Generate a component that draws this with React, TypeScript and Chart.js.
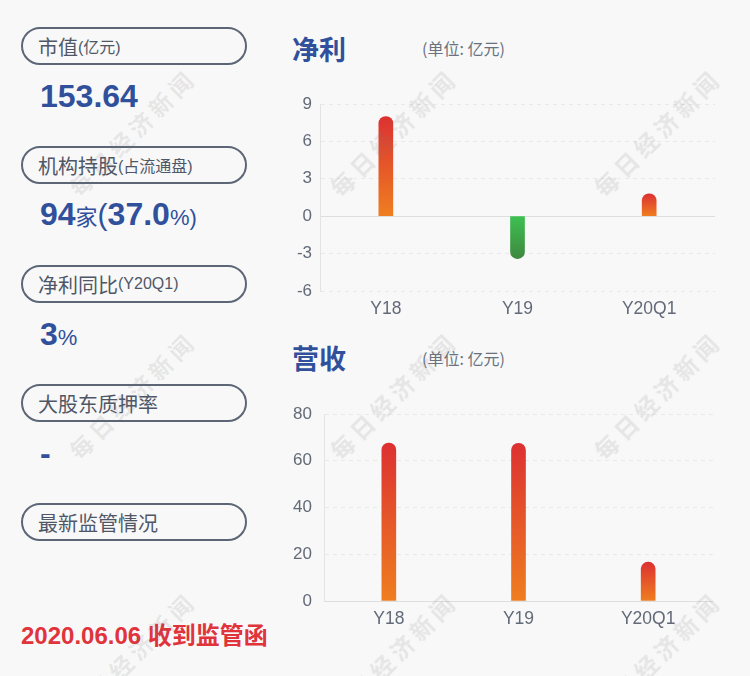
import React, { useEffect, useRef } from "react";
import { Chart, registerables } from "chart.js";

Chart.register(...registerables);

// ---------- data ----------
const categories = ["Y18", "Y19", "Y20Q1"];
const netProfit = [8.0, -3.4, 1.8];
const revenue = [67.6, 67.5, 16.6];
const profitAxis = { min: -6, max: 9, step: 3 };
const revenueAxis = { min: 0, max: 80, step: 20 };

const infoLabels = [
  { main: "市值", sub: "(亿元)" },
  { main: "机构持股", sub: "(占流通盘)" },
  { main: "净利同比", sub: "(Y20Q1)" },
  { main: "大股东质押率", sub: "" },
  { main: "最新监管情况", sub: "" },
];
const marketCap = "153.64";
const instCount = "94";
const instPct = "37.0";
const profitYoY = "3";
const pledgeRate = "-";
const footerText = "2020.06.06 收到监管函";
const unitText = "(单位: 亿元)";
const watermark = "每日经济新闻";

// ---------- styles ----------
const BG = "#f8f8f8";
const BLUE = "#30509c";
const LABEL = "#4f5767";
const BORDER = "#5c6677";
const TICK = "#626a78";
const GRID = "#e9e9e9";
const ZERO = "#dedede";
const FONT = "'Liberation Sans', 'Noto Sans CJK SC', sans-serif";
const CJK = "'Noto Sans CJK SC', sans-serif";

function barColor(ctx: any) {
  const chart = ctx.chart;
  const y = chart.scales && chart.scales.y;
  const v = ctx.raw;
  if (!y || typeof v !== "number") return "#e04a2c";
  const y0 = y.getPixelForValue(0);
  const y1 = y.getPixelForValue(v);
  if (!isFinite(y0) || !isFinite(y1) || y0 === y1) return v >= 0 ? "#e04a2c" : "#3cab4a";
  const g = chart.ctx.createLinearGradient(0, y1, 0, y0);
  if (v >= 0) {
    g.addColorStop(0, "#dc3131");
    g.addColorStop(1, "#ef7e20");
  } else {
    g.addColorStop(0, "#3f8840");
    g.addColorStop(1, "#3dc050");
  }
  return g;
}

function makeConfig(values: number[], axis: { min: number; max: number; step: number }, yWidth: number, padRight: number): any {
  return {
    type: "bar",
    data: {
      labels: categories,
      datasets: [
        {
          data: values,
          backgroundColor: barColor,
          barThickness: 14,
          borderRadius: 7,
          borderSkipped: "start",
        },
      ],
    },
    options: {
      responsive: false,
      animation: false,
      devicePixelRatio: 1,
      layout: { padding: { top: 24, right: padRight, bottom: 4, left: 0 } },
      plugins: { legend: { display: false }, tooltip: { enabled: false } },
      scales: {
        x: {
          grid: { display: false, drawTicks: false },
          border: { display: false },
          ticks: { color: TICK, font: { family: FONT, size: 17.5 }, padding: 8 },
          afterFit: (s: any) => { s.height = 30; },
        },
        y: {
          min: axis.min,
          max: axis.max,
          ticks: {
            stepSize: axis.step,
            color: TICK,
            font: { family: FONT, size: 17 },
            padding: yWidth - 32,
          },
          grid: {
            drawTicks: false,
            color: (c: any) => (c.tick && c.tick.value === 0 ? ZERO : GRID),
            lineWidth: 1,
          },
          border: {
            display: true,
            color: "#e3e3e3",
            dash: (c: any) => (c.tick && c.tick.value === 0 ? [] : [4, 4]),
          },
          afterFit: (s: any) => { s.width = yWidth; },
        },
      },
    },
  };
}

function BarChart({ values, axis, left, top, yWidth, padRight }: any) {
  const ref = useRef<HTMLCanvasElement | null>(null);
  useEffect(() => {
    if (!ref.current) return;
    const chart = new Chart(ref.current, makeConfig(values, axis, yWidth, padRight));
    return () => chart.destroy();
  }, []);
  return (
    <canvas
      ref={ref}
      width={450}
      height={245}
      style={{ position: "absolute", left, top, width: 450, height: 245 }}
    />
  );
}

function InfoBox({ top, main, sub }: { top: number; main: string; sub: string }) {
  return (
    <div
      style={{
        position: "absolute",
        left: 21,
        top,
        width: 226,
        height: 38,
        boxSizing: "border-box",
        border: `2px solid ${BORDER}`,
        borderRadius: 19,
        display: "flex",
        alignItems: "center",
        paddingLeft: 15,
        color: LABEL,
        fontFamily: FONT,
        fontSize: 20,
        whiteSpace: "nowrap",
      }}
    >
      <span>{main}</span>
      {sub ? <span style={{ fontSize: 16 }}>{sub}</span> : null}
    </div>
  );
}

const valueStyle: React.CSSProperties = {
  position: "absolute",
  left: 40,
  color: BLUE,
  fontFamily: FONT,
  fontSize: 32,
  lineHeight: "32px",
  fontWeight: 700,
  whiteSpace: "nowrap",
};
const small: React.CSSProperties = { fontSize: 22, fontWeight: 400 };

export default function App() {
  const boxTops = [27, 146, 265, 384, 503];
  const wmX = [132, 393, 657];
  const wmY = [132, 395, 655];
  return (
    <div
      style={{
        position: "fixed",
        left: 0,
        top: 0,
        width: 750,
        height: 676,
        background: BG,
        overflow: "hidden",
      }}
    >
      {infoLabels.map((l, i) => (
        <InfoBox key={i} top={boxTops[i]} main={l.main} sub={l.sub} />
      ))}
      <div style={{ ...valueStyle, top: 80 }}>{marketCap}</div>
      <div style={{ ...valueStyle, top: 198 }}>
        {instCount}
        <span style={small}>家</span>
        <span style={{ fontWeight: 400, fontSize: 30 }}>(</span>
        {instPct}
        <span style={small}>%)</span>
      </div>
      <div style={{ ...valueStyle, top: 318 }}>
        {profitYoY}
        <span style={small}>%</span>
      </div>
      <div style={{ ...valueStyle, top: 437 }}>{pledgeRate}</div>
      <div
        style={{
          position: "absolute",
          left: 21,
          top: 624,
          color: "#e0333b",
          fontFamily: FONT,
          fontSize: 24,
          lineHeight: "24px",
          fontWeight: 700,
          whiteSpace: "nowrap",
        }}
      >
        {footerText}
      </div>

      {/* chart titles */}
      <div style={{ position: "absolute", left: 292, top: 35, fontFamily: CJK, fontSize: 27, lineHeight: "27px", fontWeight: 700, color: BLUE }}>净利</div>
      <div style={{ position: "absolute", left: 422, top: 40, fontFamily: CJK, fontSize: 16, lineHeight: "16px", color: "#6a7280", whiteSpace: "nowrap" }}>{unitText}</div>
      <div style={{ position: "absolute", left: 292, top: 344, fontFamily: CJK, fontSize: 27, lineHeight: "27px", fontWeight: 700, color: BLUE }}>营收</div>
      <div style={{ position: "absolute", left: 422, top: 350, fontFamily: CJK, fontSize: 16, lineHeight: "16px", color: "#6a7280", whiteSpace: "nowrap" }}>{unitText}</div>

      <BarChart values={netProfit} axis={profitAxis} left={280} top={80} yWidth={40} padRight={15} />
      <BarChart values={revenue} axis={revenueAxis} left={280} top={390} yWidth={44} padRight={17} />

      {wmY.map((y) =>
        wmX.map((x) => (
          <div
            key={`${x}-${y}`}
            style={{
              position: "absolute",
              left: x,
              top: y,
              transform: "translate(-50%, -50%) rotate(-45deg)",
              fontFamily: CJK,
              fontWeight: 700,
              fontSize: 23,
              letterSpacing: 5,
              color: "rgba(110,110,110,0.14)",
              whiteSpace: "nowrap",
              pointerEvents: "none",
            }}
          >
            {watermark}
          </div>
        ))
      )}
    </div>
  );
}
